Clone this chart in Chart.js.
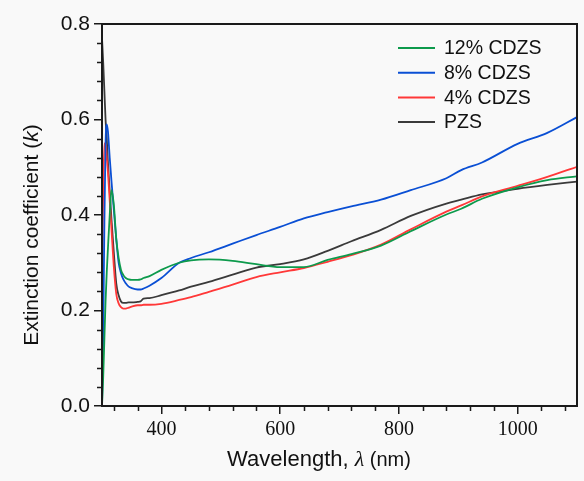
<!DOCTYPE html>
<html>
<head>
<meta charset="utf-8">
<script src="https://cdn.jsdelivr.net/npm/chart.js@4/dist/chart.umd.min.js"></script>
<style>
  body { margin: 0; background: #f9f9f9; }
  canvas { display: block; }
</style>
</head>
<body>
<canvas id="c" width="584" height="481"></canvas>
<script>
// wavelength (nm), shared by all series
const wavelength = [300, 302, 304, 306, 308, 310, 313, 316, 320, 324, 328, 332, 336, 340, 345, 350,
  360, 365, 370, 380, 400, 430, 450, 480, 520, 560, 600, 640, 680, 720, 770, 820, 880, 905, 940, 1000, 1050, 1100]

const k12 = [0.0, 0.06, 0.14, 0.22, 0.28, 0.33, 0.40, 0.452, 0.42, 0.35, 0.31, 0.285, 0.274, 0.268, 0.265, 0.264,
  0.264, 0.265, 0.268, 0.272, 0.285, 0.300, 0.305, 0.307, 0.304, 0.297, 0.291, 0.291, 0.306, 0.318, 0.336, 0.366, 0.401, 0.413, 0.434, 0.458, 0.473, 0.481]
const k8 = [0.0, 0.15, 0.38, 0.55, 0.59, 0.575, 0.52, 0.47, 0.41, 0.35, 0.30, 0.278, 0.265, 0.257, 0.25, 0.247,
  0.244, 0.244, 0.246, 0.252, 0.268, 0.300, 0.310, 0.322, 0.340, 0.358, 0.375, 0.393, 0.406, 0.418, 0.432, 0.452, 0.477, 0.494, 0.51, 0.549, 0.572, 0.605]
const k4 = [0.25, 0.45, 0.55, 0.55, 0.52, 0.49, 0.43, 0.37, 0.29, 0.235, 0.215, 0.207, 0.204, 0.204, 0.206, 0.208,
  0.211, 0.211, 0.212, 0.212, 0.214, 0.222, 0.228, 0.239, 0.254, 0.270, 0.280, 0.289, 0.302, 0.316, 0.338, 0.370, 0.407, 0.420, 0.439, 0.461, 0.48, 0.501]
const kPZS = [0.77, 0.72, 0.66, 0.60, 0.56, 0.51, 0.45, 0.39, 0.32, 0.257, 0.232, 0.219, 0.216, 0.216, 0.217, 0.217,
  0.218, 0.219, 0.225, 0.226, 0.232, 0.242, 0.250, 0.260, 0.275, 0.290, 0.297, 0.307, 0.325, 0.345, 0.369, 0.398, 0.424, 0.432, 0.443, 0.455, 0.463, 0.47]

const seriesNames = ['12% CDZS', '8% CDZS', '4% CDZS', 'PZS']
const seriesColors = ['#0d9a4c', '#0a4fd4', '#ff3838', '#3a3a3a']
const xMajorTicks = [400, 600, 800, 1000]

const toPoints = (ys) => wavelength.map((w, i) => ({x: w, y: ys[i]}))

const SANS = '"Liberation Sans", Arial, sans-serif'
const SERIF = '"Liberation Serif", "Times New Roman", serif'

// frame, minor ticks, axis titles and the legend
const decor = {
  id: 'decor',
  afterDraw(chart) {
    const ctx = chart.ctx
    const a = chart.chartArea
    const xs = chart.scales.x, ys = chart.scales.y
    ctx.save()
    ctx.strokeStyle = '#1a1a1a'
    ctx.lineWidth = 2
    ctx.strokeRect(a.left, a.top, a.right - a.left, a.bottom - a.top)

    // minor ticks
    ctx.lineWidth = 1.5
    ctx.beginPath()
    for (let v = 320; v < 1100; v += 40) {
      if (v % 200 === 0) continue
      const px = Math.round(xs.getPixelForValue(v)) + 0.5
      ctx.moveTo(px, a.bottom); ctx.lineTo(px, a.bottom + 5)
    }
    for (let i = 1; i < 20; i++) {
      if (i % 5 === 0) continue
      const py = Math.round(ys.getPixelForValue(i * 0.04)) + 0.5
      ctx.moveTo(a.left, py); ctx.lineTo(a.left - 5, py)
    }
    ctx.stroke()

    // x title, mixed fonts
    ctx.fillStyle = '#111'
    ctx.textBaseline = 'alphabetic'
    ctx.textAlign = 'left'
    const part1 = 'Wavelength, ', part2 = 'λ', part3 = ' (nm)'
    const f1 = '22px ' + SANS, f2 = 'italic 22px ' + SERIF, f3 = '20px ' + SANS
    ctx.font = f1; const w1 = ctx.measureText(part1).width
    ctx.font = f2; const w2 = ctx.measureText(part2).width
    ctx.font = f3; const w3 = ctx.measureText(part3).width
    let tx = 319 - (w1 + w2 + w3) / 2
    const ty = 466
    ctx.font = f1; ctx.fillText(part1, tx, ty); tx += w1
    ctx.font = f2; ctx.fillText(part2, tx, ty); tx += w2
    ctx.font = f3; ctx.fillText(part3, tx, ty)

    // y title
    ctx.save()
    ctx.translate(38, 235)
    ctx.rotate(-Math.PI / 2)
    const y1 = 'Extinction coefficient (', y2 = 'k', y3 = ')'
    const g1 = '21px ' + SANS, g2 = 'italic 21px ' + SANS
    ctx.font = g1; const v1 = ctx.measureText(y1).width, v3 = ctx.measureText(y3).width
    ctx.font = g2; const v2 = ctx.measureText(y2).width
    let yx = -(v1 + v2 + v3) / 2
    ctx.font = g1; ctx.fillText(y1, yx, 0); yx += v1
    ctx.font = g2; ctx.fillText(y2, yx, 0); yx += v2
    ctx.font = g1; ctx.fillText(y3, yx, 0)
    ctx.restore()

    // legend
    ctx.font = '19.5px ' + SANS
    ctx.textBaseline = 'middle'
    chart.data.datasets.forEach((ds, i) => {
      const ly = 48 + i * 24.7
      ctx.strokeStyle = ds.borderColor
      ctx.lineWidth = 2
      ctx.beginPath(); ctx.moveTo(398, ly); ctx.lineTo(435, ly); ctx.stroke()
      ctx.fillStyle = '#111'
      ctx.fillText(ds.label, 444, ly + 1)
    })
    ctx.restore()
  }
}

const datasets = [k12, k8, k4, kPZS].map((ys, i) => ({
  label: seriesNames[i],
  data: toPoints(ys),
  borderColor: seriesColors[i],
  borderWidth: 1.8,
  pointRadius: 0,
  cubicInterpolationMode: 'monotone',
}))

new Chart(document.getElementById('c'), {
  type: 'line',
  data: { datasets },
  options: {
    responsive: false,
    animation: false,
    layout: { padding: { top: 24, right: 7, left: 0, bottom: 0 } },
    plugins: { legend: { display: false }, tooltip: { enabled: false } },
    scales: {
      x: {
        type: 'linear',
        min: 300, max: 1100,
        afterBuildTicks: (s) => { s.ticks = xMajorTicks.map(v => ({value: v})) },
        afterFit: (s) => { s.height = 75 },
        grid: { drawOnChartArea: false, color: '#1a1a1a', lineWidth: 1.5, tickLength: 8 },
        border: { color: '#1a1a1a', width: 2 },
        ticks: { color: '#111', font: { family: SERIF, size: 20 }, padding: 4, maxRotation: 0,
          callback: (v) => String(v) },
      },
      y: {
        min: 0, max: 0.8,
        ticks: { stepSize: 0.2, color: '#111', font: { family: SANS, size: 21 }, padding: 4,
          callback: (v) => v.toFixed(1) },
        afterFit: (s) => { s.width = 102 },
        grid: { drawOnChartArea: false, color: '#1a1a1a', lineWidth: 1.5, tickLength: 8 },
        border: { color: '#1a1a1a', width: 2 },
      }
    }
  },
  plugins: [decor]
})
</script>
</body>
</html>
